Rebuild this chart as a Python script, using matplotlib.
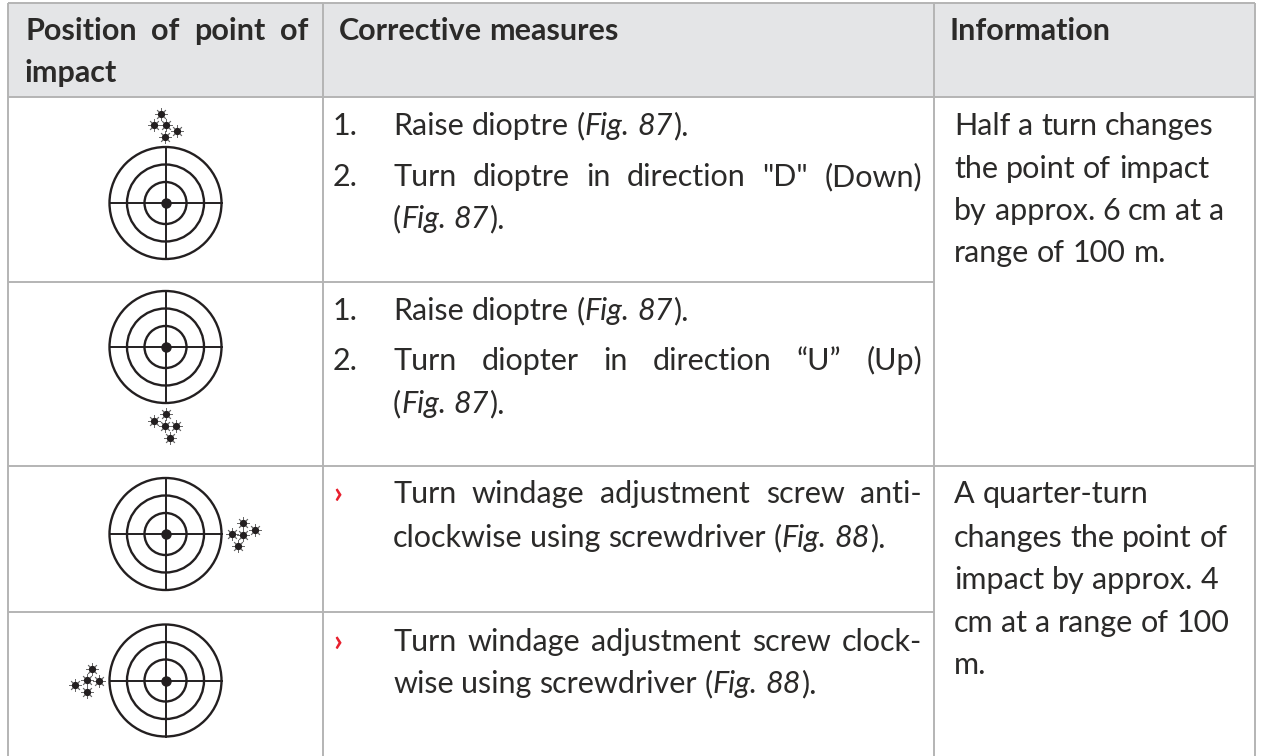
import matplotlib
matplotlib.use("Agg")
import matplotlib.pyplot as plt
from matplotlib.patches import Circle, Rectangle

FONT = "Lato"
TEXT = "#2b2a29"
GRID = "#b4b4b4"
HEAD = "#e4e5e7"
INK = "#231f20"

col_x = [8, 323, 934, 1255]
top_y = 3
head_y = 97
row_y = [282, 466, 612]

target_x = [165.5, 165.5, 165.5, 165.5]
target_y = [203, 347, 534, 680.5]
ring_r = [56, 38.5, 21]

shots_x = [
    [161, 154, 166, 177, 165],
    [154, 166, 165, 176, 170],
    [243, 232, 243, 255, 238],
    [92, 87, 99, 75, 87],
]
shots_y = [
    [114, 125, 125, 131, 137],
    [421, 414, 426, 426, 438],
    [523, 534, 535, 530, 546],
    [669, 680, 681, 685, 692],
]

fig = plt.figure(figsize=(12.62, 7.56), dpi=100)
ax = fig.add_axes([0, 0, 1, 1])
ax.set_xlim(0, 1262)
ax.set_ylim(756, 0)
ax.axis("off")

renderer = fig.canvas.get_renderer()


def text_width(s, size, weight, style):
    t = ax.text(0, 0, s, fontsize=size, family=FONT, weight=weight, style=style)
    w = t.get_window_extent(renderer).width
    t.remove()
    return w


def put(x, y, parts, size=22, weight="normal", width=None, color=TEXT):
    # parts: list of (string, style), spread out to width if given
    words = [[]]
    for s, st in parts:
        for i, p in enumerate(s.split(" ")):
            if i > 0:
                words.append([])
            if p:
                words[-1].append((p, st))
    sizes = [sum(text_width(p, size, weight, st) for p, st in w) for w in words]
    space = text_width("a a", size, weight, "normal") - text_width("aa", size, weight, "normal")
    if width is not None and len(words) > 1:
        space = (width - sum(sizes)) / (len(words) - 1)
    cx = x
    for w, wsize in zip(words, sizes):
        fx = cx
        for p, st in w:
            ax.text(fx, y, p, fontsize=size, family=FONT, weight=weight, style=st,
                    color=color, va="baseline", ha="left")
            fx += text_width(p, size, weight, st)
        cx += wsize + space


# header band
ax.add_patch(Rectangle((col_x[0], top_y), col_x[3] - col_x[0], head_y - top_y,
                       facecolor=HEAD, edgecolor="none", zorder=0))

# grid lines
for y, x1 in [(top_y, col_x[3]), (head_y, col_x[3]), (row_y[0], col_x[2]),
              (row_y[1], col_x[3]), (row_y[2], col_x[2])]:
    ax.plot([col_x[0], x1], [y, y], color=GRID, lw=1.4, zorder=1, solid_capstyle="butt")
for x in col_x:
    ax.plot([x, x], [top_y, 756], color=GRID, lw=1.4, zorder=1, solid_capstyle="butt")

# targets
for cx, cy in zip(target_x, target_y):
    for r in ring_r:
        ax.add_patch(Circle((cx, cy), r, fill=False, edgecolor=INK, lw=1.7))
    ax.plot([cx - 56, cx + 56], [cy, cy], color=INK, lw=1.4)
    ax.plot([cx, cx], [cy - 56, cy + 56], color=INK, lw=1.4)
    ax.plot(cx, cy, "o", color=INK, ms=6.5)

# bullet holes
for sx, sy in zip(shots_x, shots_y):
    ax.plot(sx, sy, linestyle="none", marker=(8, 2, 0), color="#6a6a6a", ms=9, mew=0.6)
    ax.plot(sx, sy, linestyle="none", marker="o", color=INK, ms=4.2)

# header text
put(25, 40, [("Position of point of", "normal")], weight="bold", width=283)
put(25, 82, [("impact", "normal")], weight="bold")
put(339, 40, [("Corrective measures", "normal")], weight="bold")
put(950, 40, [("Information", "normal")], weight="bold")

# corrective measures
fig_87 = [("(", "normal"), ("Fig. 87", "italic"), (").", "normal")]
for y, s in [(135, "1."), (186, "2."), (320, "1."), (370, "2.")]:
    put(333, y, [(s, "normal")])
put(393, 135, [("Raise dioptre ", "normal")] + fig_87)
put(393, 186, [('Turn dioptre in direction "D" (Down)', "normal")], width=529)
put(393, 228, fig_87)
put(393, 320, [("Raise dioptre ", "normal")] + fig_87)
put(393, 370, [("Turn diopter in direction \u201cU\u201d (Up)", "normal")], width=529)
put(393, 413, fig_87)
put(393, 503, [("Turn windage adjustment screw anti-", "normal")], width=529)
put(393, 547, [("clockwise using screwdriver (", "normal"), ("Fig. 88", "italic"), (").", "normal")])
put(393, 651, [("Turn windage adjustment screw clock-", "normal")], width=529)
put(393, 693, [("wise using screwdriver (", "normal"), ("Fig. 88", "italic"), (").", "normal")])

for y in (503, 651):
    put(333, y, [("\u203a", "normal")], color="#e8202e", weight="bold")

# information column
for y, s in [(135, "Half a turn changes"), (178, "the point of impact"),
             (220, "by approx. 6 cm at a"), (262, "range of 100 m."),
             (503, "A quarter-turn"), (547, "changes the point of"),
             (589, "impact by approx. 4"), (632, "cm at a range of 100"),
             (674, "m.")]:
    put(954, y, [(s, "normal")])

fig.savefig("out.png", dpi=100)
